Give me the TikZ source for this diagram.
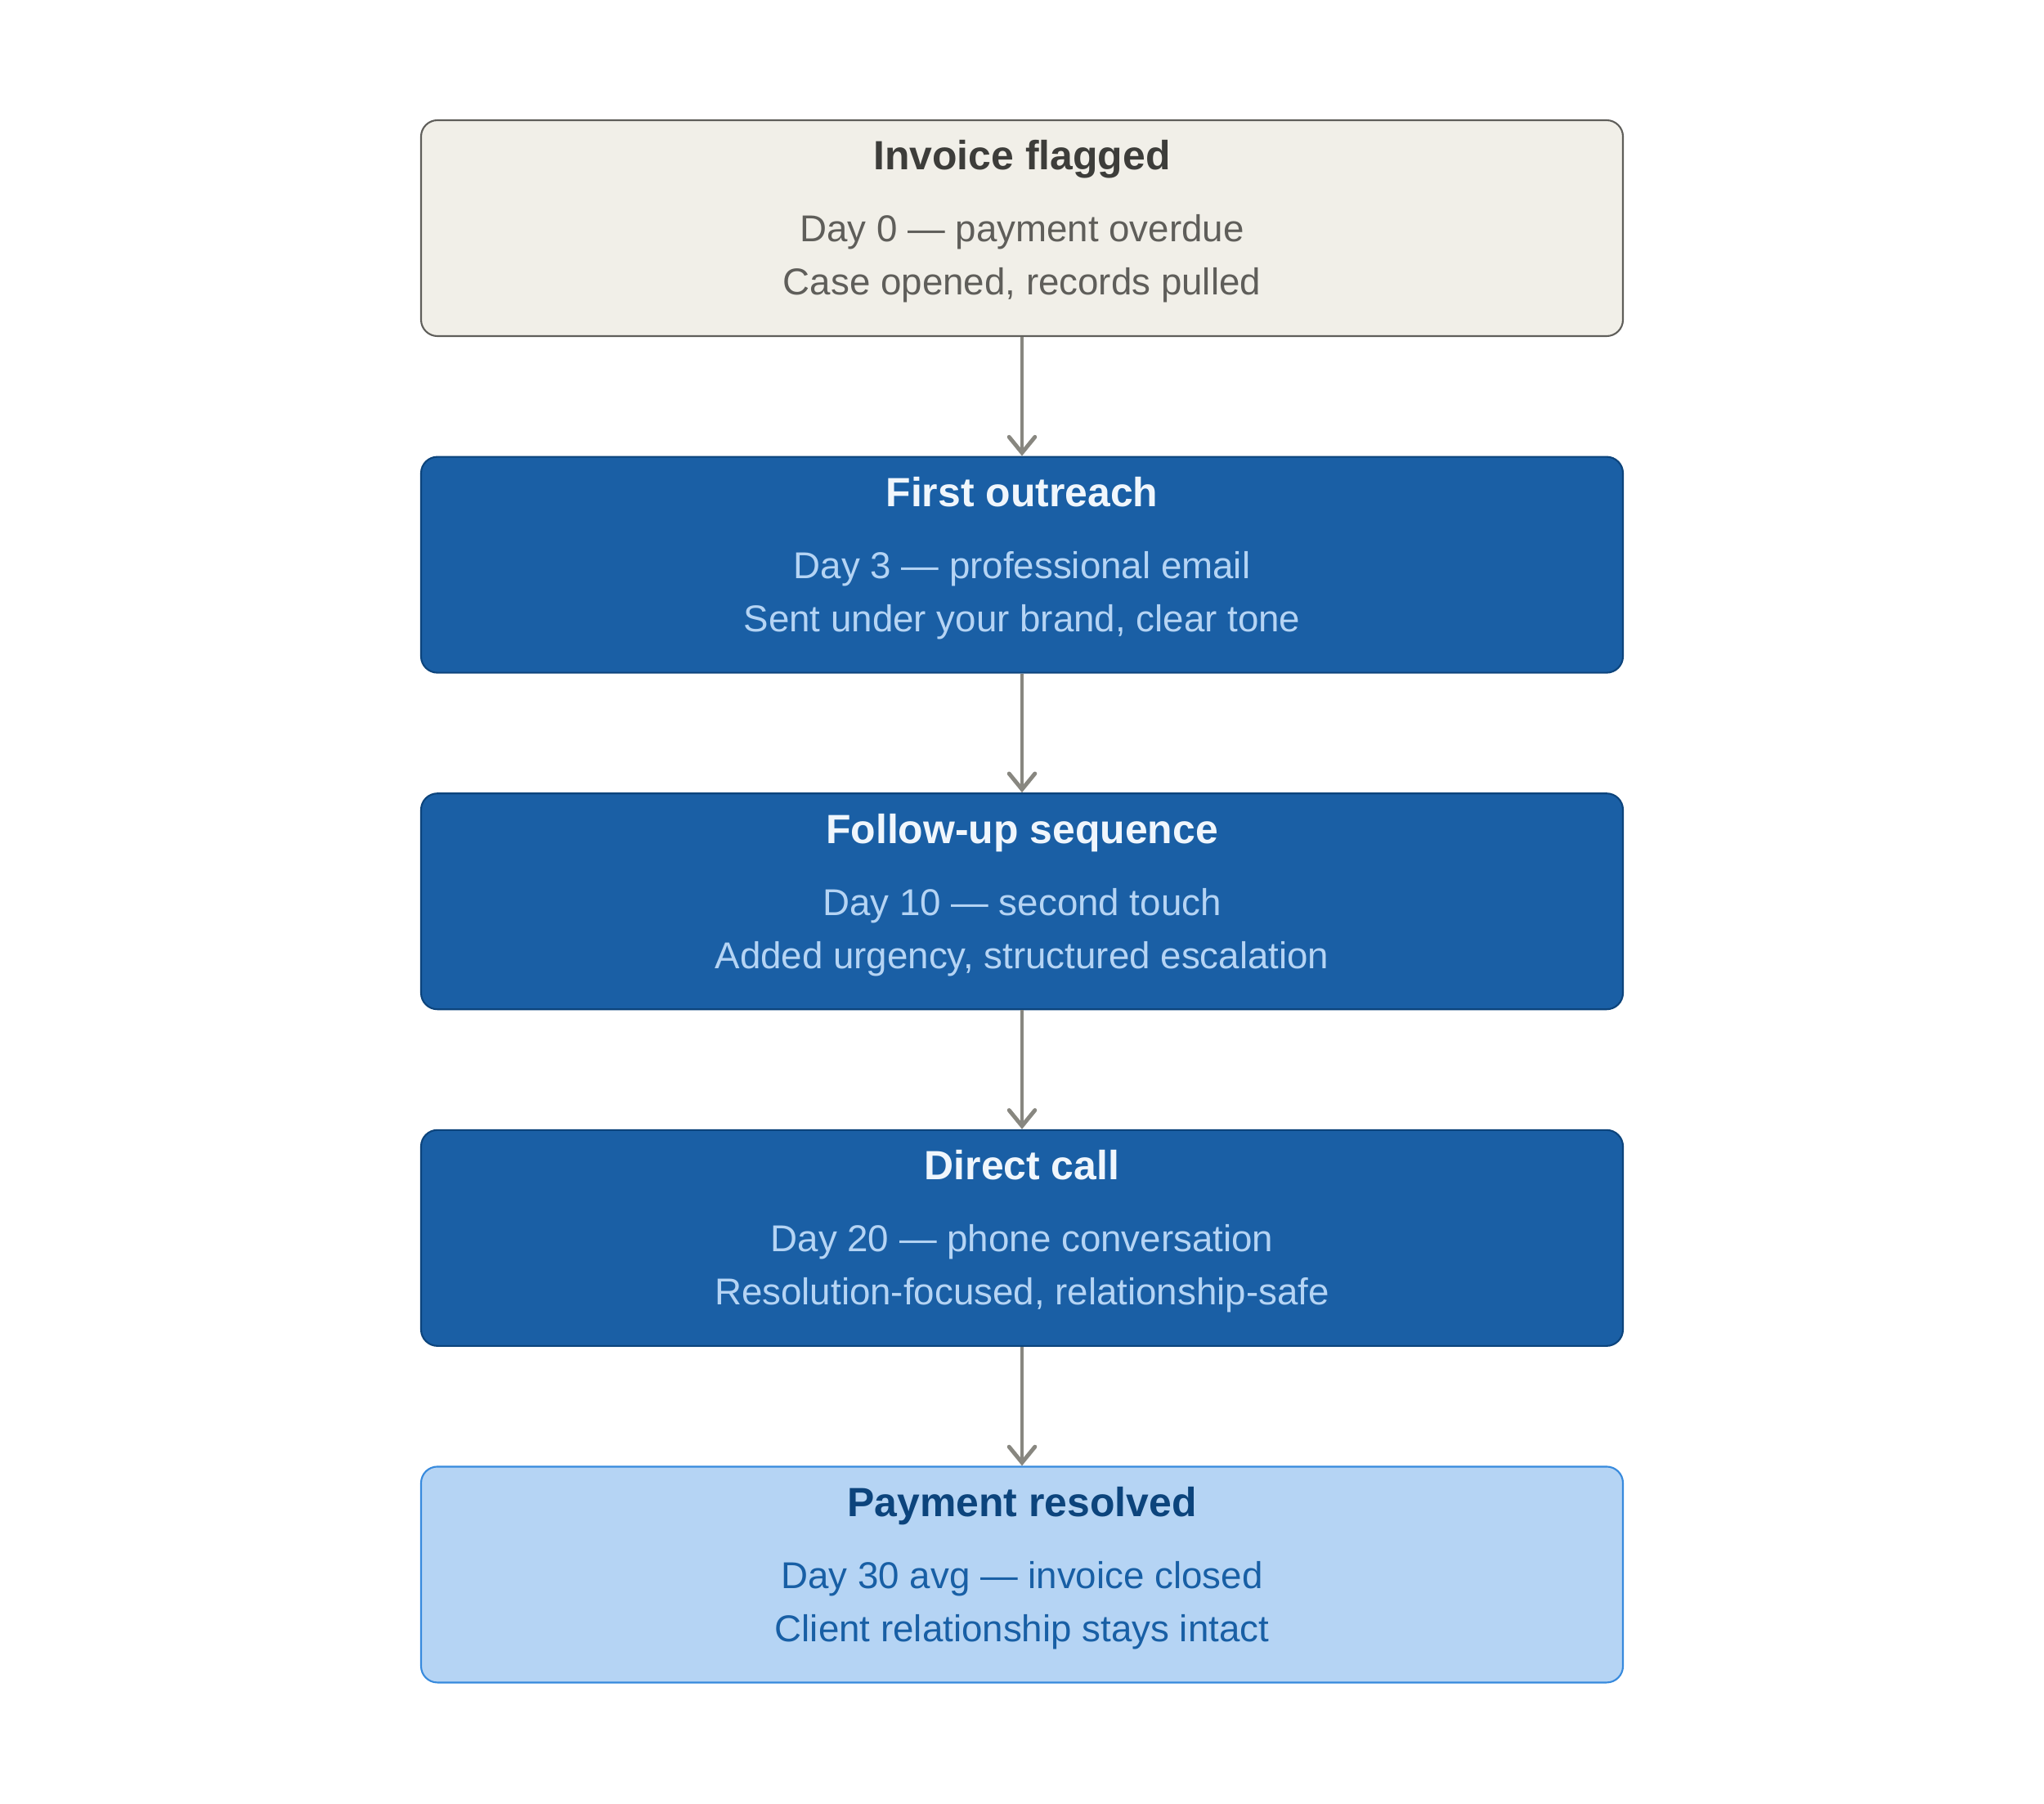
\documentclass[tikz,border=0pt]{standalone}
\usepackage{fontspec}
\setmainfont{Liberation Sans}
\usepackage{tikz}
\usetikzlibrary{positioning}
\usetikzlibrary{arrows.meta}

\definecolor{graybg}{HTML}{F1EFE8}
\definecolor{grayline}{HTML}{5F5E5A}
\definecolor{graytitle}{HTML}{3D3D3A}
\definecolor{graytext}{HTML}{5F5E5A}
\definecolor{bluebg}{HTML}{1A5FA5}
\definecolor{blueline}{HTML}{0C447C}
\definecolor{bluetitle}{HTML}{F0F6FC}
\definecolor{bluetext}{HTML}{B5D4F4}
\definecolor{lightbg}{HTML}{B5D4F4}
\definecolor{lightline}{HTML}{378ADD}
\definecolor{lighttitle}{HTML}{0C447C}
\definecolor{lighttext}{HTML}{185FA5}
\definecolor{arrowgray}{HTML}{888780}

\tikzset{
	stage/.style={draw,rounded corners=0.2cm,line width=0.6pt,minimum width=14.7cm,minimum height=2.64cm,inner sep=0pt},
	startbox/.style={stage,draw=grayline,fill=graybg},
	midbox/.style={stage,draw=blueline,fill=bluebg},
	endbox/.style={stage,draw=lightline,fill=lightbg},
	title/.style={anchor=base,inner sep=0pt,font=\fontsize{14.2}{17}\selectfont\bfseries},
	info/.style={anchor=base,inner sep=0pt,font=\fontsize{13}{15}\selectfont},
	flow/.style={draw=arrowgray,line width=1.4pt,-{Straight Barb[length=5.5pt,width=9pt,line cap=round]}}
}

\begin{document}
\begin{tikzpicture}
			\useasboundingbox (0,0) rectangle (25,-22.06);
			%stage boxes
			\node[startbox] (flagged) at (12.5,-2.79) {};
			\node[midbox,below=1.455cm of flagged] (outreach) {};
			\node[midbox,below=1.455cm of outreach] (followup) {};
			\node[midbox,below=1.455cm of followup] (call) {};
			\node[endbox,below=1.455cm of call] (resolved) {};
			%arrows between stages
			\draw[flow] (flagged)--(outreach);
			\draw[flow] (outreach)--(followup);
			\draw[flow] (followup)--(call);
			\draw[flow] (call)--(resolved);
			%texts of invoice flagged
			\node[title,text=graytitle] (flagged-t) at ([yshift=-0.62cm]flagged.north) {Invoice flagged};
			\node[info,text=graytext] (flagged-a) at ([yshift=-1.50cm]flagged.north) {Day 0 — payment overdue};
			\node[info,text=graytext] (flagged-b) at ([yshift=-2.15cm]flagged.north) {Case opened, records pulled};
			%texts of first outreach
			\node[title,text=bluetitle] (outreach-t) at ([yshift=-0.62cm]outreach.north) {First outreach};
			\node[info,text=bluetext] (outreach-a) at ([yshift=-1.50cm]outreach.north) {Day 3 — professional email};
			\node[info,text=bluetext] (outreach-b) at ([yshift=-2.15cm]outreach.north) {Sent under your brand, clear tone};
			%texts of follow-up
			\node[title,text=bluetitle] (followup-t) at ([yshift=-0.62cm]followup.north) {Follow-up sequence};
			\node[info,text=bluetext] (followup-a) at ([yshift=-1.50cm]followup.north) {Day 10 — second touch};
			\node[info,text=bluetext] (followup-b) at ([yshift=-2.15cm]followup.north) {Added urgency, structured escalation};
			%texts of direct call
			\node[title,text=bluetitle] (call-t) at ([yshift=-0.62cm]call.north) {Direct call};
			\node[info,text=bluetext] (call-a) at ([yshift=-1.50cm]call.north) {Day 20 — phone conversation};
			\node[info,text=bluetext] (call-b) at ([yshift=-2.15cm]call.north) {Resolution-focused, relationship-safe};
			%texts of payment resolved
			\node[title,text=lighttitle] (resolved-t) at ([yshift=-0.62cm]resolved.north) {Payment resolved};
			\node[info,text=lighttext] (resolved-a) at ([yshift=-1.50cm]resolved.north) {Day 30 avg — invoice closed};
			\node[info,text=lighttext] (resolved-b) at ([yshift=-2.15cm]resolved.north) {Client relationship stays intact};
		\end{tikzpicture}
\end{document}
